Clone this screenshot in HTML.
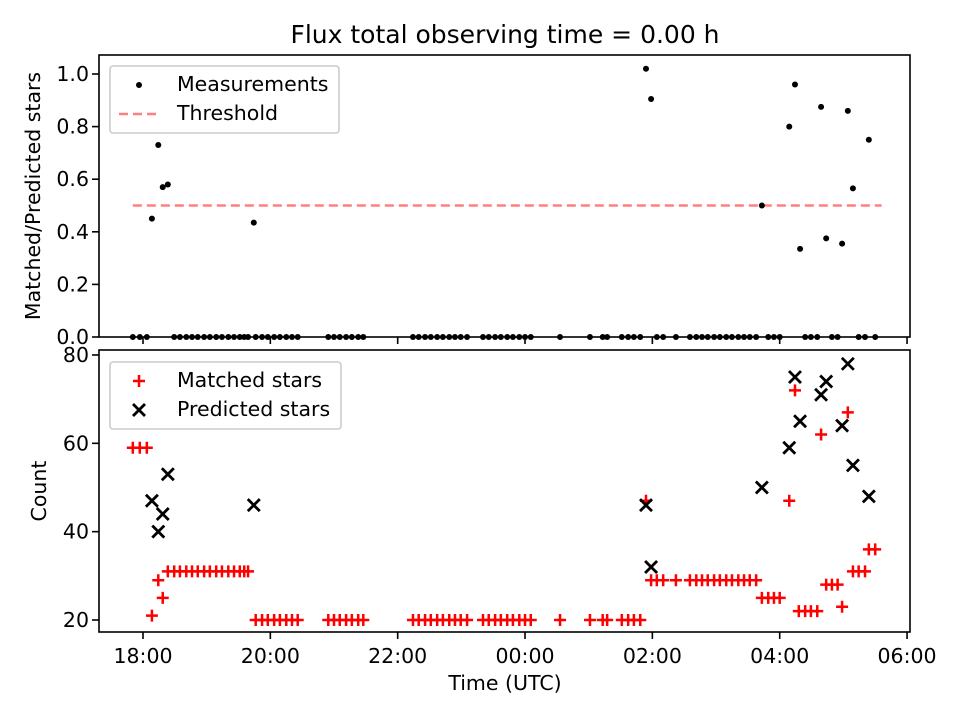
<!DOCTYPE html>
<html><head><meta charset="utf-8"><style>
body{margin:0;background:#fff}
svg text{font-family:"DejaVu Sans","Liberation Sans",sans-serif;fill:#000}
</style></head><body>
<svg id="chart" width="960" height="720" xmlns="http://www.w3.org/2000/svg"></svg>
<script>
// Data (times in hours after 18:00 UTC)
const mTimes=[-0.16,-0.05,0.06,0.14,0.24,0.31,0.39,0.49,0.58,0.68,0.77,0.86,0.96,1.05,1.15,1.24,1.34,1.43,1.52,1.59,1.65,1.77,1.87,1.96,2.06,2.15,2.25,2.34,2.43,2.91,3.0,3.09,3.19,3.28,3.38,3.46,4.24,4.33,4.43,4.52,4.62,4.71,4.81,4.9,4.99,5.09,5.34,5.43,5.53,5.62,5.72,5.81,5.91,6.0,6.09,6.55,7.02,7.22,7.29,7.52,7.62,7.71,7.81,7.90,7.98,8.07,8.17,8.37,8.59,8.69,8.78,8.87,8.97,9.06,9.16,9.25,9.35,9.44,9.53,9.63,9.72,9.82,9.91,10.0,10.15,10.24,10.3,10.4,10.49,10.59,10.65,10.73,10.82,10.91,10.98,11.07,11.15,11.24,11.34,11.4,11.5];
const mVals=[59,59,59,21,29,25,31,31,31,31,31,31,31,31,31,31,31,31,31,31,31,20,20,20,20,20,20,20,20,20,20,20,20,20,20,20,20,20,20,20,20,20,20,20,20,20,20,20,20,20,20,20,20,20,20,20,20,20,20,20,20,20,20,47,29,29,29,29,29,29,29,29,29,29,29,29,29,29,29,29,25,25,25,25,47,72,22,22,22,22,62,28,28,28,23,67,31,31,31,36,36];
const pTimes=[0.14,0.24,0.31,0.39,1.74,7.90,7.98,9.72,10.15,10.24,10.32,10.65,10.73,10.98,11.07,11.15,11.40];
const pVals=[47,40,44,53,46,46,32,50,59,75,65,71,74,64,78,55,48];
const rTimes=[0.14,0.24,0.31,0.39,1.74,7.90,7.98,9.72,10.15,10.24,10.32,10.65,10.73,10.98,11.07,11.15,11.40];
const rVals=[0.45,0.73,0.57,0.58,0.435,1.02,0.905,0.5,0.80,0.96,0.335,0.875,0.375,0.355,0.86,0.565,0.75];
const zeroTimes=mTimes.filter(t=>!rTimes.some(r=>Math.abs(r-t)<0.03));
const xTickVals=[0,2,4,6,8,10,12];
const xTickLabels=["18:00","20:00","22:00","00:00","02:00","04:00","06:00"];
const topTicks=[0,0.2,0.4,0.6,0.8,1.0];
const botTicks=[20,40,60,80];
const threshold=0.5;

const NS="http://www.w3.org/2000/svg";
const svg=document.getElementById('chart');
function mk(tag,attrs,parent){const e=document.createElementNS(NS,tag);for(const k in attrs)e.setAttribute(k,attrs[k]);(parent||svg).appendChild(e);return e;}
const L=99,R=910;
const X=h=>143+h*63.67;
const T0=337,TTOP=55; const yT=v=>337-v*263;
const B0=632,BTOP=350; const yB=v=>620-(v-20)*4.417;
const FS='20.5px';

// title
let t=mk('text',{x:505,y:43,'text-anchor':'middle','font-size':'25px'});t.textContent='Flux total observing time = 0.00 h';



// threshold
let th=mk('line',{x1:X(-0.16),x2:X(11.6),y1:yT(threshold),y2:yT(threshold),stroke:'#ff7f7f','stroke-width':2.5,'stroke-dasharray':'9,5'});



// measurements
zeroTimes.forEach(tm=>{const c=mk('circle',{cx:X(tm),cy:yT(0),r:3,fill:'#000'});

});
rTimes.forEach((tm,i)=>{const c=mk('circle',{cx:X(tm),cy:yT(rVals[i]),r:3,fill:'#000'});

});

// matched
mTimes.forEach((tm,i)=>{const x=X(tm),y=yB(mVals[i]);const p=mk('path',{d:`M${x-6},${y}h12M${x},${y-6}v12`,stroke:'#f00','stroke-width':2.5,fill:'none'});

});
// predicted
pTimes.forEach((tm,i)=>{const x=X(tm),y=yB(pVals[i]);const p=mk('path',{d:`M${x-6},${y-6}l12,12M${x-6},${y+6}l12,-12`,stroke:'#000','stroke-width':2.8,fill:'none'});

});

// axes frames
const f1=mk('rect',{x:L,y:TTOP,width:R-L,height:T0-TTOP,fill:'none',stroke:'#000','stroke-width':1.6});


const f2=mk('rect',{x:L,y:BTOP,width:R-L,height:B0-BTOP,fill:'none',stroke:'#000','stroke-width':1.6});



// x ticks
xTickVals.forEach((v,i)=>{const x=X(v);
mk('line',{x1:x,x2:x,y1:T0,y2:T0+7,stroke:'#000','stroke-width':1.6});
mk('line',{x1:x,x2:x,y1:B0,y2:B0+7,stroke:'#000','stroke-width':1.6});
const tx=mk('text',{x:x,y:663,'text-anchor':'middle','font-size':FS});tx.textContent=xTickLabels[i];

});
topTicks.forEach(v=>{const y=yT(v);mk('line',{x1:L-7,x2:L,y1:y,y2:y,stroke:'#000','stroke-width':1.6});
const tx=mk('text',{x:L-10,y:y+7,'text-anchor':'end','font-size':FS});tx.textContent=v.toFixed(1);

});
botTicks.forEach(v=>{const y=yB(v);mk('line',{x1:L-7,x2:L,y1:y,y2:y,stroke:'#000','stroke-width':1.6});
const tx=mk('text',{x:L-10,y:y+7,'text-anchor':'end','font-size':FS});tx.textContent=v;

});

// axis titles
let a=mk('text',{x:505,y:690,'text-anchor':'middle','font-size':FS});a.textContent='Time (UTC)';


a=mk('text',{x:0,y:0,'text-anchor':'middle','font-size':FS,transform:'translate(40,196) rotate(-90)'});a.textContent='Matched/Predicted stars';


a=mk('text',{x:0,y:0,'text-anchor':'middle','font-size':FS,transform:'translate(46,491) rotate(-90)'});a.textContent='Count';



// legends
let lg=mk('g',{});


mk('rect',{x:110,y:66,width:229,height:67,rx:3,fill:'#fff','fill-opacity':0.8,stroke:'#ccc','stroke-width':1.6},lg);
mk('circle',{cx:139,cy:85,r:3,fill:'#000'},lg);
let lt=mk('text',{x:177,y:91,'font-size':FS},lg);lt.textContent='Measurements';


mk('line',{x1:119,x2:161,y1:114,y2:114,stroke:'#ff7f7f','stroke-width':2.5,'stroke-dasharray':'9,5'},lg);
lt=mk('text',{x:177,y:120,'font-size':FS},lg);lt.textContent='Threshold';



lg=mk('g',{});


mk('rect',{x:110,y:362,width:231,height:67,rx:3,fill:'#fff','fill-opacity':0.8,stroke:'#ccc','stroke-width':1.6},lg);
mk('path',{d:'M133,381h12M139,375v12',stroke:'#f00','stroke-width':2.5},lg);
lt=mk('text',{x:177,y:387,'font-size':FS},lg);lt.textContent='Matched stars';


mk('path',{d:'M133,404l12,12M133,416l12,-12',stroke:'#000','stroke-width':2.8},lg);
lt=mk('text',{x:177,y:416,'font-size':FS},lg);lt.textContent='Predicted stars';


</script>
</body></html>
